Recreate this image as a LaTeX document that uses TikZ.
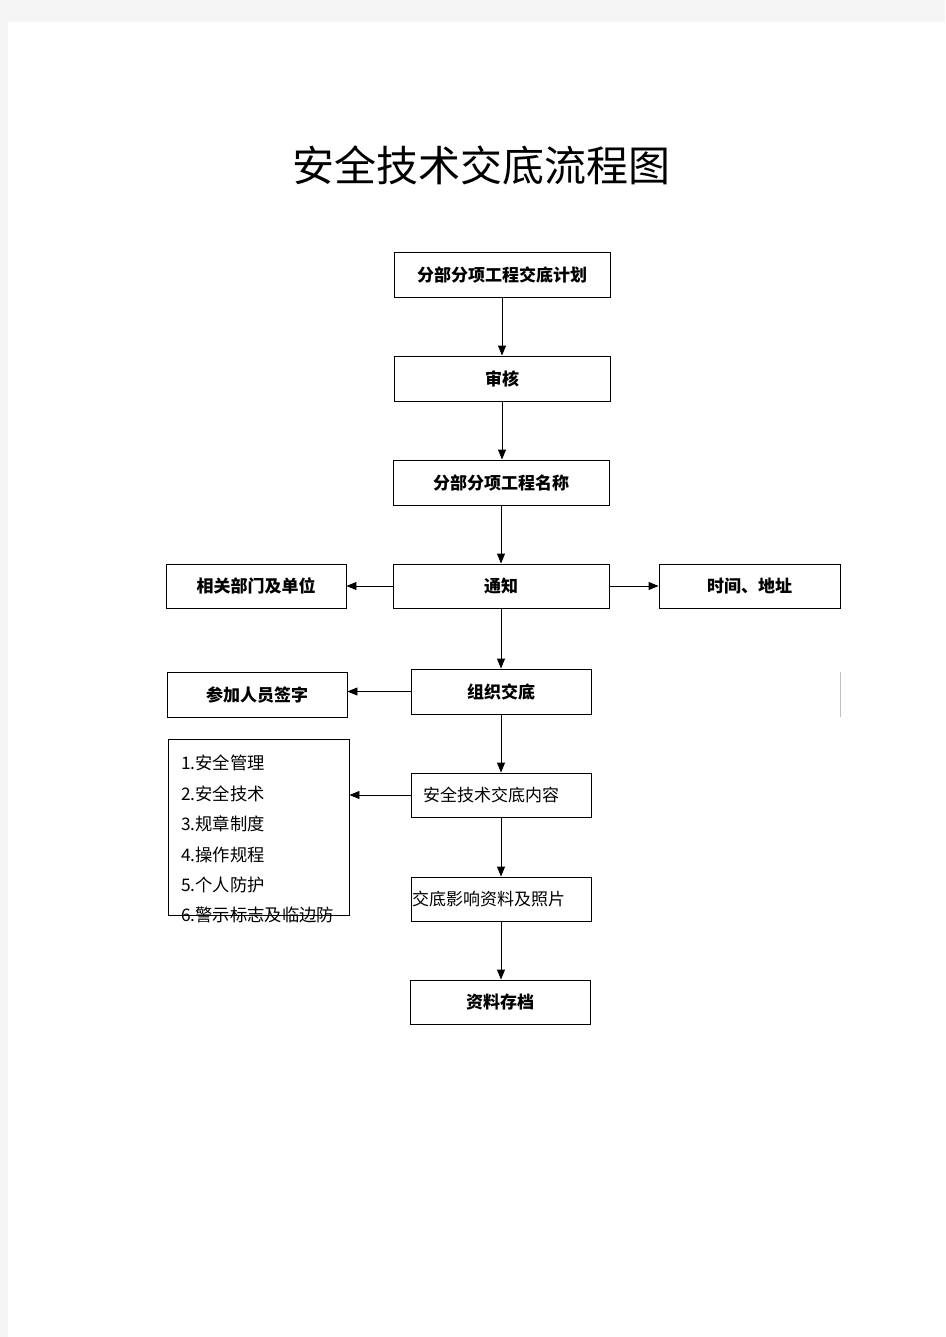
\documentclass[tikz,border=0pt]{standalone}
\usepackage{fontspec}
\setmainfont{Noto Sans CJK SC}
\usetikzlibrary{arrows.meta}
\tikzset{
  box/.style={draw=black, line width=0.9pt, rectangle, inner sep=0pt, font=\fontsize{17}{19}\selectfont\bfseries, text=black},
  plainbox/.style={box, font=\fontsize{17}{19}\selectfont},
  arr/.style={draw=black, line width=0.9pt, -{Triangle[length=10pt,width=8pt]}}
}
\begin{document}
\begin{tikzpicture}[x=1pt,y=1pt]
\fill[gray!8] (0,0) rectangle (945,-1337);
\useasboundingbox (0,0) rectangle (945,-1337);
\fill[white] (8,-22) rectangle (945,-1337);
\node[font=\fontsize{42}{46}\selectfont] (title) at (481,-165) {安全技术交底流程图};
\node[box, minimum width=216pt, minimum height=45pt] (b1) at (502,-274.5) {分部分项工程交底计划};
\node[box, minimum width=216pt, minimum height=45pt] (b2) at (502,-378.5) {审核};
\node[box, minimum width=216pt, minimum height=45pt] (b3) at (501,-482.5) {分部分项工程名称};
\node[box, minimum width=216pt, minimum height=44pt] (b4) at (501,-586) {通知};
\node[box, minimum width=180pt, minimum height=44pt] (dept) at (256,-586) {相关部门及单位};
\node[box, minimum width=181pt, minimum height=44pt] (time) at (749.5,-586) {时间、地址};
\node[box, minimum width=180pt, minimum height=45pt] (org) at (501,-691.5) {组织交底};
\node[box, minimum width=180pt, minimum height=45pt] (sign) at (257,-694.5) {参加人员签字};
\node[box, minimum width=181pt, minimum height=176pt] (list) at (258.5,-827) {};
\node[anchor=north west, inner sep=0pt, align=left, font=\fontsize{17.3}{30.4}\selectfont] (listtext) at (181,-755) {1.安全管理\\2.安全技术\\3.规章制度\\4.操作规程\\5.个人防护\\6.警示标志及临边防};
\node[plainbox, minimum width=180pt, minimum height=44pt, text width=156pt, align=left] (cont) at (501,-795) {安全技术交底内容};
\node[plainbox, minimum width=180pt, minimum height=44pt, text width=178pt, align=left] (photo) at (501,-899) {交底影响资料及照片};
\node[box, minimum width=180pt, minimum height=44pt] (arch) at (500,-1002) {资料存档};
\coordinate (s1) at (840,-672);
\coordinate (s2) at (840,-717);
\draw[gray!50, line width=0.6pt] (s1) -- (s2);
\draw[arr] (b1.south) -- (b1.south |- b2.north);
\draw[arr] (b2.south) -- (b2.south |- b3.north);
\draw[arr] (b3.south) -- (b3.south |- b4.north);
\draw[arr] (b4.west) -- (dept.east);
\draw[arr] (b4.east) -- (time.west);
\draw[arr] (b4.south) -- (b4.south |- org.north);
\draw[arr] (org.west) -- (org.west -| sign.east);
\draw[arr] (org.south) -- (org.south |- cont.north);
\draw[arr] (cont.west) -- (cont.west -| list.east);
\draw[arr] (cont.south) -- (cont.south |- photo.north);
\draw[arr] (photo.south) -- (photo.south |- arch.north);
\end{tikzpicture}
\end{document}
